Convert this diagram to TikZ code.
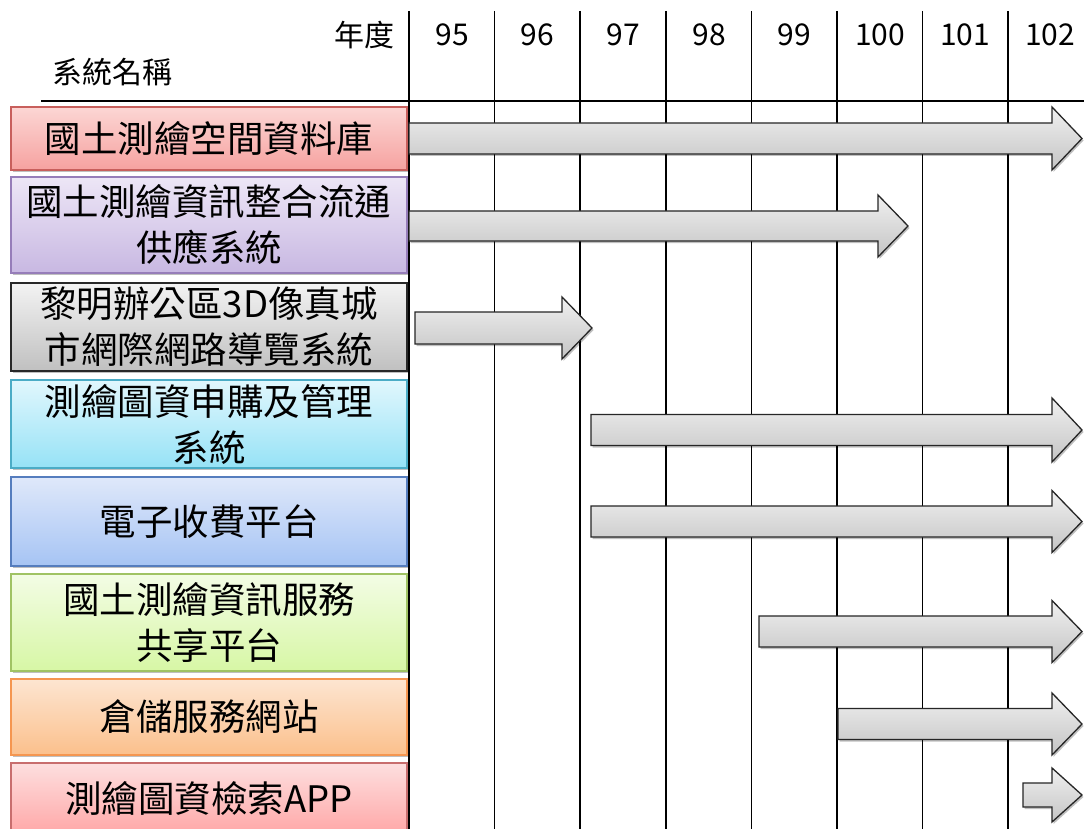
\documentclass[tikz,border=0pt]{standalone}
\usepackage{fontspec}
\setmainfont{Noto Sans CJK TC}
\usetikzlibrary{shadows}
\definecolor{rT}{RGB}{252,214,212}\definecolor{rB}{RGB}{246,162,160}\definecolor{rD}{RGB}{200,95,92}
\definecolor{pT}{RGB}{237,230,246}\definecolor{pB}{RGB}{200,184,226}\definecolor{pD}{RGB}{150,125,185}
\definecolor{gT}{RGB}{243,243,243}\definecolor{gB}{RGB}{192,192,192}\definecolor{gD}{RGB}{40,40,40}
\definecolor{cT}{RGB}{225,247,253}\definecolor{cB}{RGB}{150,226,246}\definecolor{cD}{RGB}{75,172,198}
\definecolor{bT}{RGB}{223,232,250}\definecolor{bB}{RGB}{166,196,244}\definecolor{bD}{RGB}{85,125,190}
\definecolor{lT}{RGB}{243,252,229}\definecolor{lB}{RGB}{215,247,165}\definecolor{lD}{RGB}{160,195,100}
\definecolor{oT}{RGB}{253,229,209}\definecolor{oB}{RGB}{251,192,140}\definecolor{oD}{RGB}{245,150,80}
\definecolor{kT}{RGB}{253,223,223}\definecolor{kB}{RGB}{255,168,168}\definecolor{kD}{RGB}{200,110,110}
\tikzset{
  sysbox/.style n args={3}{rectangle, minimum width=396pt, top color=#1, bottom color=#2,
    draw=#3, line width=1.3pt, align=center, inner sep=0pt,
    font=\fontsize{36.5}{46}\selectfont,
    drop shadow={shadow xshift=1.5pt, shadow yshift=-2pt, opacity=0.25, fill=black}},
  gbar/.style={draw=black!85, line width=1.3pt, line join=miter, top color=black!6, bottom color=black!23,
    drop shadow={shadow xshift=1.5pt, shadow yshift=-2pt, opacity=0.25, fill=black}},
  grid line/.style={draw=black, line width=1.4pt},
  yearlabel/.style={font=\fontsize{30}{30}\selectfont, inner sep=0pt},
}
\newcommand\ganttbar[5]{% left, center y, tip x, half shaft, half head
  \path[gbar] (#1,#2-#4) -- (#3-30,#2-#4) -- (#3-30,#2-#5) -- (#3,#2) -- (#3-30,#2+#5)
    -- (#3-30,#2+#4) -- (#1,#2+#4) -- cycle;}
\begin{document}
\begin{tikzpicture}[x=1pt,y=-1pt]
\useasboundingbox (0,0) rectangle (1084,829);
\fill[white] (0,0) rectangle (1084,829);
% grid
\coordinate (hl) at (41,101);
\coordinate (hr) at (1084,101);
\draw[grid line] (hl) -- (hr);
\foreach \x [count=\i] in {409,494.5,580,666,751.5,837,922.5,1008}{
  \coordinate (gt\i) at (\x,11);
  \coordinate (gb\i) at (\x,829);
  \draw[grid line] (gt\i) -- (gb\i);
}
% header
\node[yearlabel, anchor=east] (hy) at (395,35) {年度};
\node[yearlabel, anchor=west] (hs) at (52,72) {系統名稱};
\foreach \y/\x [count=\i] in {95/452,96/537,97/623,98/709,99/794,100/880,101/965,102/1050}{
  \node[yearlabel] (y\i) at (\x,35) {\y};
}
% system boxes
\node[sysbox={rT}{rB}{rD}, minimum height=63pt] (s1) at (209,138.5) {國土測繪空間資料庫};
\node[sysbox={pT}{pB}{pD}, minimum height=96pt] (s2) at (209,225) {國土測繪資訊整合流通\\供應系統};
\node[sysbox={gT}{gB}{gD}, minimum height=88pt] (s3) at (209,327) {黎明辦公區3D像真城\\市網際網路導覽系統};
\node[sysbox={cT}{cB}{cD}, minimum height=88pt] (s4) at (209,424) {測繪圖資申購及管理\\系統};
\node[sysbox={bT}{bB}{bD}, minimum height=89pt] (s5) at (209,521.5) {電子收費平台};
\node[sysbox={lT}{lB}{lD}, minimum height=97pt] (s6) at (209,622.5) {國土測繪資訊服務\\共享平台};
\node[sysbox={oT}{oB}{oD}, minimum height=76pt] (s7) at (209,717) {倉儲服務網站};
\node[sysbox={kT}{kB}{kD}, minimum height=70pt] (s8) at (209,798) {測繪圖資檢索APP};
% gantt arrows
\ganttbar{409}{138.5}{1082}{15.5}{31.5}
\ganttbar{409}{226}{908}{15}{31}
\ganttbar{415}{328}{592}{16}{31}
\ganttbar{591}{430}{1082}{15.5}{32}
\ganttbar{591}{521.5}{1082}{15.5}{31}
\ganttbar{759}{631.5}{1082}{15.5}{31}
\ganttbar{838}{724}{1082}{15.5}{31}
\ganttbar{1023}{795}{1082}{12}{27}
\end{tikzpicture}
\end{document}
